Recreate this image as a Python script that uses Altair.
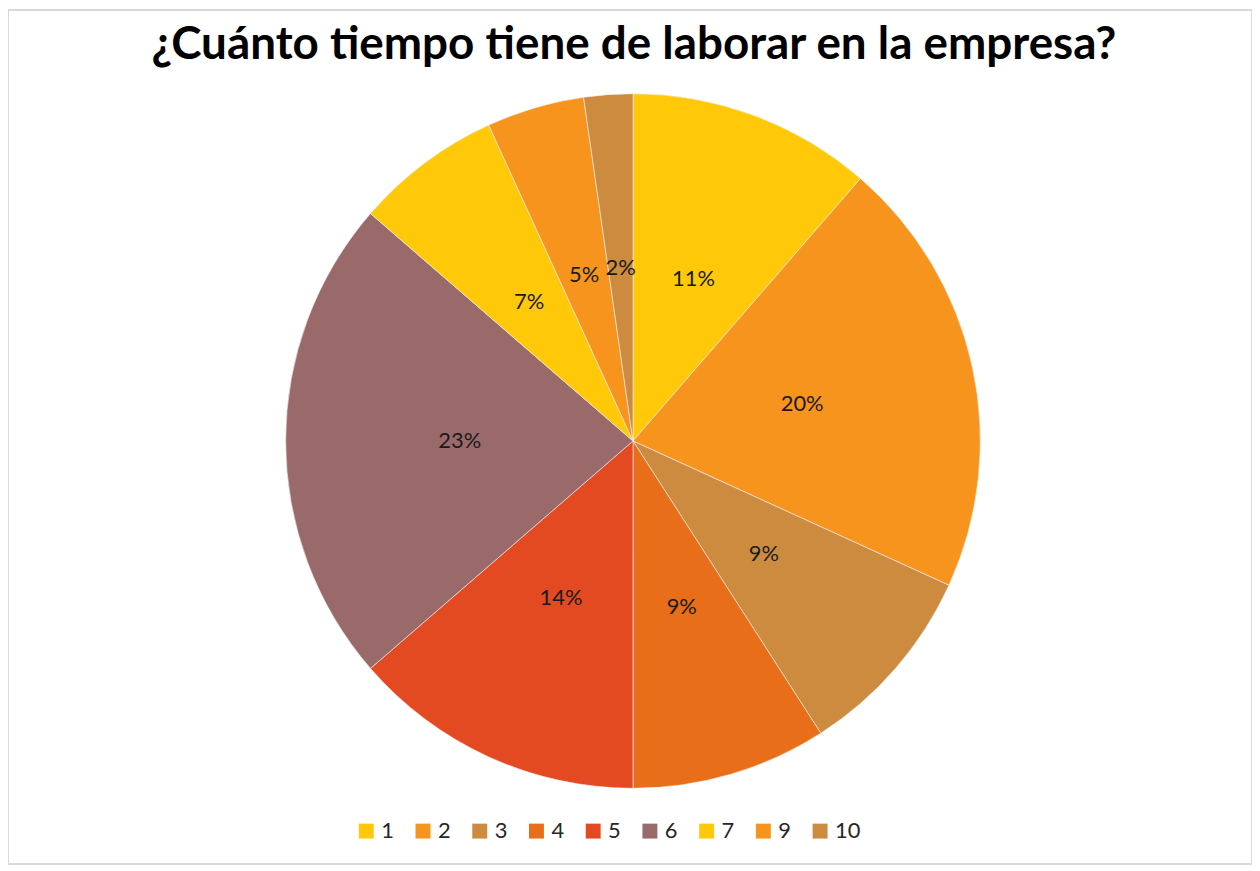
import altair as alt
import pandas as pd

categories = ["1", "2", "3", "4", "5", "6", "7", "9", "10"]
counts = [5, 9, 4, 4, 6, 10, 3, 2, 1]
labels = ["11%", "20%", "9%", "9%", "14%", "23%", "7%", "5%", "2%"]
colors = ["#FFC90A", "#F7941D", "#CC8B3F", "#E86E1A", "#E34A22",
          "#9A6A6A", "#FFC90A", "#F7941D", "#CC8B3F"]

df = pd.DataFrame({
    "Años": categories,
    "n": counts,
    "pct": labels,
    "orden": list(range(len(categories))),
})

CX, CY, R = 628, 433, 349

base = alt.Chart(df).encode(
    theta=alt.Theta("n:Q", stack=True),
    order=alt.Order("orden:Q", sort="ascending"),
)

pie = base.mark_arc(outerRadius=R, stroke="#f2f2f2", strokeWidth=0.6).encode(
    x=alt.value(CX),
    y=alt.value(CY),
    color=alt.Color(
        "Años:N",
        sort=categories,
        scale=alt.Scale(domain=categories, range=colors),
        legend=alt.Legend(
            title=None,
            orient="none",
            direction="horizontal",
            legendX=349,
            legendY=814,
            symbolType="square",
            symbolSize=225,
            symbolStrokeWidth=0,
            labelFont="Lato",
            labelFontSize=22,
            labelColor="#262626",
            labelOffset=4,
            columnPadding=18,
            padding=0,
        ),
    ),
)

text = base.mark_text(radius=174, font="Lato", fontSize=22, color="#1a1a1a").encode(
    x=alt.value(CX),
    y=alt.value(CY),
    text="pct:N",
)

title = alt.Chart(pd.DataFrame({"t": ["¿Cuánto tiempo tiene de laborar en la empresa?"]})).mark_text(
    font="Lato", fontSize=46, fontWeight="bold", color="#000000", baseline="alphabetic", align="center"
).encode(
    x=alt.value(629), y=alt.value(49), text="t:N"
)

chart = alt.layer(pie, text, title).properties(
    width=1250,
    height=858,
    padding=0,
    autosize=alt.AutoSizeParams(type="none"),
).configure_view(stroke="#d9d9d9", strokeWidth=2)

chart.save("out.html", embed_options={"renderer": "svg", "actions": False})
